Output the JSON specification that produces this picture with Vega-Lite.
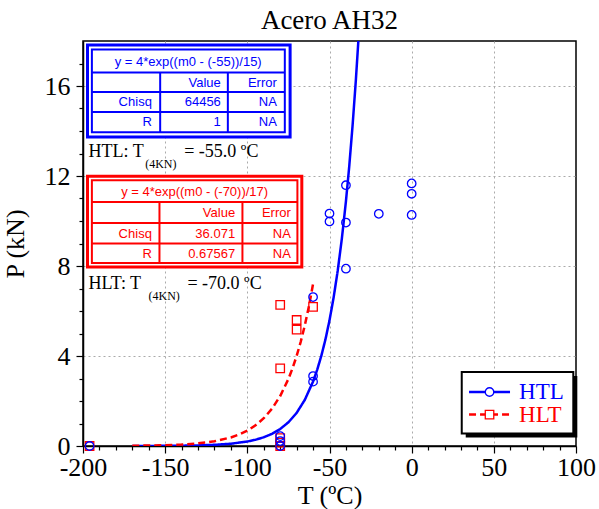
{
  "$schema": "https://vega.github.io/schema/vega-lite/v6.json",
  "width": 493,
  "height": 405,
  "autosize": "none",
  "padding": {"left": 83, "top": 41, "right": 23, "bottom": 63},
  "background": "white",
  "title": {"text": "Acero AH32", "font": "Liberation Serif", "fontSize": 27, "fontWeight": "normal", "color": "black", "offset": 6},
  "config": {
    "view": {"stroke": "black", "strokeWidth": 1.5},
    "axis": {
      "domainColor": "black", "domainWidth": 1.5, "tickColor": "black", "tickWidth": 1.2,
      "labelFont": "Liberation Serif", "labelFontSize": 26, "labelColor": "black",
      "titleFont": "Liberation Serif", "titleFontSize": 26, "titleFontWeight": "normal", "titleColor": "black",
      "gridColor": "#aaaaaa", "gridDash": [2, 3], "gridWidth": 1,
      "labelOverlap": false, "labelFlush": false, "labelBound": false
    }
  },
  "resolve": {"axis": {"x": "independent", "y": "independent"}},
  "datasets": {
    "points": [
      {"T": -196, "P": 0, "series": "HLT"},
      {"T": -80, "P": 0, "series": "HLT"},
      {"T": -80, "P": 0.15, "series": "HLT"},
      {"T": -80, "P": 0.35, "series": "HLT"},
      {"T": -80, "P": 3.45, "series": "HLT"},
      {"T": -80, "P": 6.27, "series": "HLT"},
      {"T": -70, "P": 5.17, "series": "HLT"},
      {"T": -70, "P": 5.6, "series": "HLT"},
      {"T": -60, "P": 6.18, "series": "HLT"},
      {"T": -196, "P": 0, "series": "HTL"},
      {"T": -80, "P": 0, "series": "HTL"},
      {"T": -80, "P": 0.22, "series": "HTL"},
      {"T": -80, "P": 0.44, "series": "HTL"},
      {"T": -60, "P": 2.86, "series": "HTL"},
      {"T": -60, "P": 3.11, "series": "HTL"},
      {"T": -60, "P": 6.62, "series": "HTL"},
      {"T": -50, "P": 9.98, "series": "HTL"},
      {"T": -50, "P": 10.33, "series": "HTL"},
      {"T": -40, "P": 7.88, "series": "HTL"},
      {"T": -40, "P": 9.93, "series": "HTL"},
      {"T": -40, "P": 11.59, "series": "HTL"},
      {"T": -20, "P": 10.32, "series": "HTL"},
      {"T": 0, "P": 10.27, "series": "HTL"},
      {"T": 0, "P": 11.21, "series": "HTL"},
      {"T": 0, "P": 11.67, "series": "HTL"}
    ],
    "fits": [
      {"T": -170, "P": 0.0019, "series": "HTL"},
      {"T": -160, "P": 0.0036, "series": "HTL"},
      {"T": -150, "P": 0.0071, "series": "HTL"},
      {"T": -140, "P": 0.0138, "series": "HTL"},
      {"T": -130, "P": 0.027, "series": "HTL"},
      {"T": -120, "P": 0.0525, "series": "HTL"},
      {"T": -110, "P": 0.102, "series": "HTL"},
      {"T": -100, "P": 0.199, "series": "HTL"},
      {"T": -95, "P": 0.278, "series": "HTL"},
      {"T": -90, "P": 0.388, "series": "HTL"},
      {"T": -85, "P": 0.541, "series": "HTL"},
      {"T": -80, "P": 0.755, "series": "HTL"},
      {"T": -75, "P": 1.054, "series": "HTL"},
      {"T": -70, "P": 1.472, "series": "HTL"},
      {"T": -65, "P": 2.054, "series": "HTL"},
      {"T": -60, "P": 2.866, "series": "HTL"},
      {"T": -57.5, "P": 3.386, "series": "HTL"},
      {"T": -55, "P": 4.0, "series": "HTL"},
      {"T": -52.5, "P": 4.726, "series": "HTL"},
      {"T": -50, "P": 5.583, "series": "HTL"},
      {"T": -47.5, "P": 6.595, "series": "HTL"},
      {"T": -45, "P": 7.791, "series": "HTL"},
      {"T": -42.5, "P": 9.204, "series": "HTL"},
      {"T": -40, "P": 10.873, "series": "HTL"},
      {"T": -38, "P": 12.42, "series": "HTL"},
      {"T": -36, "P": 14.2, "series": "HTL"},
      {"T": -34, "P": 16.22, "series": "HTL"},
      {"T": -32.44, "P": 18.0, "series": "HTL"},
      {"T": -170, "P": 0.0112, "series": "HLT"},
      {"T": -160, "P": 0.0201, "series": "HLT"},
      {"T": -150, "P": 0.0362, "series": "HLT"},
      {"T": -140, "P": 0.0651, "series": "HLT"},
      {"T": -130, "P": 0.1173, "series": "HLT"},
      {"T": -120, "P": 0.2113, "series": "HLT"},
      {"T": -110, "P": 0.38, "series": "HLT"},
      {"T": -105, "P": 0.51, "series": "HLT"},
      {"T": -100, "P": 0.685, "series": "HLT"},
      {"T": -95, "P": 0.919, "series": "HLT"},
      {"T": -90, "P": 1.234, "series": "HLT"},
      {"T": -85, "P": 1.656, "series": "HLT"},
      {"T": -80, "P": 2.221, "series": "HLT"},
      {"T": -75, "P": 2.981, "series": "HLT"},
      {"T": -72.5, "P": 3.453, "series": "HLT"},
      {"T": -70, "P": 4.0, "series": "HLT"},
      {"T": -67.5, "P": 4.634, "series": "HLT"},
      {"T": -65, "P": 5.368, "series": "HLT"},
      {"T": -62.5, "P": 6.218, "series": "HLT"},
      {"T": -60, "P": 7.202, "series": "HLT"}
    ],
    "outerBoxes": [
      {"series": "HTL", "x1": -197.26, "x2": -73.97, "y1": 17.82, "y2": 13.73},
      {"series": "HLT", "x1": -197.26, "x2": -66.85, "y1": 11.99, "y2": 7.96}
    ],
    "innerBoxes": [
      {"series": "HTL", "x1": -194.59, "x2": -77.19, "y1": 17.62, "y2": 13.94},
      {"series": "HLT", "x1": -194.59, "x2": -69.53, "y1": 11.81, "y2": 8.13}
    ],
    "tableLines": [
      {"series": "HTL", "x1": -194.59, "x2": -77.19, "y1": 16.6, "y2": 16.6},
      {"series": "HTL", "x1": -194.59, "x2": -77.19, "y1": 15.73, "y2": 15.73},
      {"series": "HTL", "x1": -194.59, "x2": -77.19, "y1": 14.84, "y2": 14.84},
      {"series": "HTL", "x1": -153.04, "x2": -153.04, "y1": 16.6, "y2": 13.94},
      {"series": "HTL", "x1": -111.86, "x2": -111.86, "y1": 16.6, "y2": 13.94},
      {"series": "HLT", "x1": -194.59, "x2": -69.53, "y1": 10.84, "y2": 10.84},
      {"series": "HLT", "x1": -194.59, "x2": -69.53, "y1": 9.91, "y2": 9.91},
      {"series": "HLT", "x1": -194.59, "x2": -69.53, "y1": 9.0, "y2": 9.0},
      {"series": "HLT", "x1": -153.47, "x2": -153.47, "y1": 10.84, "y2": 8.13},
      {"series": "HLT", "x1": -102.98, "x2": -102.98, "y1": 10.84, "y2": 8.13}
    ],
    "tableTitles": [
      {"series": "HTL", "x": -136.0, "y": 17.08, "text": "y = 4*exp((m0 - (-55))/15)"},
      {"series": "HLT", "x": -132.06, "y": 11.29, "text": "y = 4*exp((m0 - (-70))/17)"}
    ],
    "tableCells": [
      {"series": "HTL", "x": -116.12, "y": 16.15, "text": "Value"},
      {"series": "HTL", "x": -82.06, "y": 16.15, "text": "Error"},
      {"series": "HTL", "x": -158.09, "y": 15.29, "text": "Chisq"},
      {"series": "HTL", "x": -116.12, "y": 15.29, "text": "64456"},
      {"series": "HTL", "x": -82.06, "y": 15.29, "text": "NA"},
      {"series": "HTL", "x": -158.09, "y": 14.4, "text": "R"},
      {"series": "HTL", "x": -116.12, "y": 14.4, "text": "1"},
      {"series": "HTL", "x": -82.06, "y": 14.4, "text": "NA"},
      {"series": "HLT", "x": -107.42, "y": 10.37, "text": "Value"},
      {"series": "HLT", "x": -73.54, "y": 10.37, "text": "Error"},
      {"series": "HLT", "x": -158.09, "y": 9.44, "text": "Chisq"},
      {"series": "HLT", "x": -107.42, "y": 9.44, "text": "36.071"},
      {"series": "HLT", "x": -73.54, "y": 9.44, "text": "NA"},
      {"series": "HLT", "x": -158.09, "y": 8.52, "text": "R"},
      {"series": "HLT", "x": -107.42, "y": 8.52, "text": "0.67567"},
      {"series": "HLT", "x": -73.54, "y": 8.52, "text": "NA"}
    ],
    "notes": [
      {"x": -196.65, "y": 13.07, "text": "HTL: T"},
      {"x": -138.44, "y": 13.07, "text": "= -55.0 ºC"},
      {"x": -196.65, "y": 7.22, "text": "HLT: T"},
      {"x": -136.44, "y": 7.22, "text": "= -70.0 ºC"}
    ],
    "subs": [
      {"x": -162.17, "y": 12.55, "text": "(4KN)"},
      {"x": -160.16, "y": 6.65, "text": "(4KN)"}
    ],
    "legendFrame": [
      {"x1": 30.47, "x2": 98.36, "y1": 3.289, "y2": 0.551, "sx1": 32.9, "sx2": 100.8, "sy1": 3.11, "sy2": 0.373}
    ],
    "legendItems": [
      {"series": "HTL", "x1": 34.91, "x2": 59.85, "xm": 47.38, "xl": 65.33, "y": 2.4},
      {"series": "HLT", "x1": 34.91, "x2": 59.85, "xm": 47.38, "xl": 65.33, "y": 1.396}
    ]
  },
  "encoding": {
    "color": {"field": "series", "type": "nominal", "legend": null,
      "scale": {"domain": ["HTL", "HLT"], "range": ["#0000ff", "#ff0000"]}}
  },
  "layer": [
    {
      "data": {"name": "outerBoxes"},
      "mark": {"type": "rect", "filled": false, "fill": "white", "strokeWidth": 3},
      "encoding": {
        "x": {"field": "x1", "type": "quantitative", "title": "T (ºC)",
          "scale": {"domain": [-200, 100], "nice": false, "zero": false},
          "axis": {
            "orient": "bottom",
            "values": [-200, -150, -100, -50, 0, 50, 100],
            "labelExpr": "'' + datum.value",
            "labelOverlap": false, "labelFlush": false, "labelBound": false,
            "tickSize": 7,
            "gridOpacity": {"condition": {"test": "datum.value > -200 && datum.value < 100", "value": 1}, "value": 0},
            "labelPadding": 1, "titlePadding": 2
          }},
        "x2": {"field": "x2"},
        "y": {"field": "y1", "type": "quantitative", "title": "P (kN)",
          "scale": {"domain": [0, 18], "nice": false, "zero": false},
          "axis": {
            "orient": "left",
            "values": [0, 4, 8, 12, 16],
            "labelExpr": "'' + datum.value",
            "labelOverlap": false, "labelFlush": false, "labelBound": false,
            "tickSize": 7,
            "gridOpacity": {"condition": {"test": "datum.value > 0", "value": 1}, "value": 0},
            "labelPadding": 6, "titlePadding": 16
          }},
        "y2": {"field": "y2"}
      }
    },
    {
      "data": {"name": "innerBoxes"},
      "mark": {"type": "rect", "filled": false, "strokeWidth": 2},
      "encoding": {
        "x": {"field": "x1", "type": "quantitative", "title": null,
          "axis": {"orient": "bottom", "values": [-190,-180,-170,-160,-140,-130,-120,-110,-90,-80,-70,-60,-40,-30,-20,-10,10,20,30,40,60,70,80,90],
            "labels": false, "grid": false, "domain": false, "tickSize": 4, "title": null}},
        "x2": {"field": "x2"},
        "y": {"field": "y1", "type": "quantitative", "title": null,
          "axis": {"orient": "left", "values": [1,2,3,5,6,7,9,10,11,13,14,15,17],
            "labels": false, "grid": false, "domain": false, "tickSize": 4, "title": null}},
        "y2": {"field": "y2"}
      }
    },
    {
      "data": {"name": "tableLines"},
      "mark": {"type": "rule", "strokeWidth": 2},
      "encoding": {
        "x": {"field": "x1", "type": "quantitative", "axis": null},
        "x2": {"field": "x2"},
        "y": {"field": "y1", "type": "quantitative", "axis": null},
        "y2": {"field": "y2"}
      }
    },
    {
      "data": {"name": "tableTitles"},
      "mark": {"type": "text", "font": "Liberation Sans", "fontSize": 13, "align": "center", "baseline": "middle"},
      "encoding": {
        "x": {"field": "x", "type": "quantitative", "axis": null},
        "y": {"field": "y", "type": "quantitative", "axis": null},
        "text": {"field": "text"}
      }
    },
    {
      "data": {"name": "tableCells"},
      "mark": {"type": "text", "font": "Liberation Sans", "fontSize": 13, "align": "right", "baseline": "middle"},
      "encoding": {
        "x": {"field": "x", "type": "quantitative", "axis": null},
        "y": {"field": "y", "type": "quantitative", "axis": null},
        "text": {"field": "text"}
      }
    },
    {
      "data": {"name": "notes"},
      "mark": {"type": "text", "font": "Liberation Serif", "fontSize": 18, "align": "left", "baseline": "middle"},
      "encoding": {
        "x": {"field": "x", "type": "quantitative", "axis": null},
        "y": {"field": "y", "type": "quantitative", "axis": null},
        "text": {"field": "text"},
        "color": {"value": "black"}
      }
    },
    {
      "data": {"name": "subs"},
      "mark": {"type": "text", "font": "Liberation Serif", "fontSize": 12, "align": "left", "baseline": "middle"},
      "encoding": {
        "x": {"field": "x", "type": "quantitative", "axis": null},
        "y": {"field": "y", "type": "quantitative", "axis": null},
        "text": {"field": "text"},
        "color": {"value": "black"}
      }
    },
    {
      "data": {"name": "fits"},
      "mark": {"type": "line", "strokeWidth": 2.5, "clip": true},
      "encoding": {
        "x": {"field": "T", "type": "quantitative", "axis": null},
        "y": {"field": "P", "type": "quantitative", "axis": null},
        "strokeDash": {"field": "series", "type": "nominal", "legend": null,
          "scale": {"domain": ["HTL", "HLT"], "range": [[1, 0], [7, 4]]}},
        "order": {"field": "T", "type": "quantitative"}
      }
    },
    {
      "data": {"name": "points"},
      "mark": {"type": "point", "filled": false, "strokeWidth": 1.3, "opacity": 1, "size": 72},
      "encoding": {
        "x": {"field": "T", "type": "quantitative", "axis": null},
        "y": {"field": "P", "type": "quantitative", "axis": null},
        "shape": {"field": "series", "type": "nominal", "legend": null,
          "scale": {"domain": ["HTL", "HLT"], "range": ["circle", "square"]}}
      }
    },
    {
      "data": {"name": "legendFrame"},
      "mark": {"type": "rect"},
      "encoding": {
        "x": {"field": "sx1", "type": "quantitative", "axis": null},
        "x2": {"field": "sx2"},
        "y": {"field": "sy1", "type": "quantitative", "axis": null},
        "y2": {"field": "sy2"},
        "color": {"value": "black"}
      }
    },
    {
      "data": {"name": "legendFrame"},
      "mark": {"type": "rect", "stroke": "black", "strokeWidth": 2},
      "encoding": {
        "x": {"field": "x1", "type": "quantitative", "axis": null},
        "x2": {"field": "x2"},
        "y": {"field": "y1", "type": "quantitative", "axis": null},
        "y2": {"field": "y2"},
        "color": {"value": "white"}
      }
    },
    {
      "data": {"name": "legendItems"},
      "mark": {"type": "rule", "strokeWidth": 2.5},
      "encoding": {
        "x": {"field": "x1", "type": "quantitative", "axis": null},
        "x2": {"field": "x2"},
        "y": {"field": "y", "type": "quantitative", "axis": null},
        "strokeDash": {"field": "series", "type": "nominal", "legend": null}
      }
    },
    {
      "data": {"name": "legendItems"},
      "mark": {"type": "point", "filled": true, "fill": "white", "strokeWidth": 1.3, "opacity": 1, "size": 72},
      "encoding": {
        "x": {"field": "xm", "type": "quantitative", "axis": null},
        "y": {"field": "y", "type": "quantitative", "axis": null},
        "shape": {"field": "series", "type": "nominal", "legend": null},
        "stroke": {"field": "series", "type": "nominal", "legend": null,
          "scale": {"domain": ["HTL", "HLT"], "range": ["#0000ff", "#ff0000"]}},
        "color": {"value": "white"}
      }
    },
    {
      "data": {"name": "legendItems"},
      "mark": {"type": "text", "font": "Liberation Serif", "fontSize": 23, "align": "left", "baseline": "middle"},
      "encoding": {
        "x": {"field": "xl", "type": "quantitative", "axis": null},
        "y": {"field": "y", "type": "quantitative", "axis": null},
        "text": {"field": "series"}
      }
    }
  ]
}
